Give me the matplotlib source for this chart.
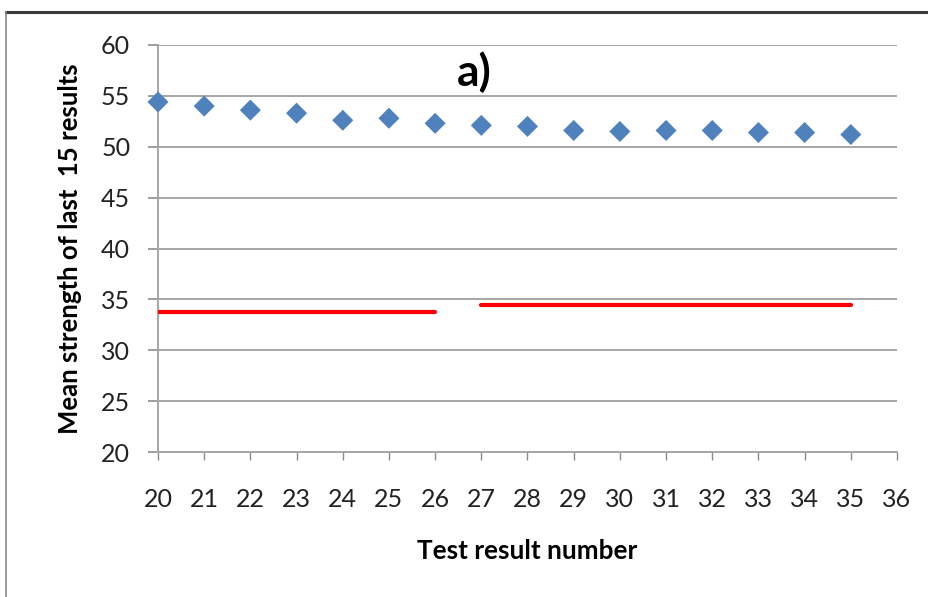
import matplotlib
matplotlib.use("Agg")
import matplotlib.pyplot as plt
from matplotlib.lines import Line2D

# Test result numbers and the running mean of the last 15 results
test_numbers = [20, 21, 22, 23, 24, 25, 26, 27, 28, 29, 30, 31, 32, 33, 34, 35]
mean_strength = [54.4, 54.0, 53.6, 53.3, 52.6, 52.8, 52.3, 52.1, 52.0, 51.6,
                 51.5, 51.6, 51.6, 51.4, 51.4, 51.2]

# Required-level segments (start, end, level)
seg_starts = [20, 27]
seg_ends = [26, 35]
seg_levels = [33.8, 34.4]

x_ticks = list(range(20, 37))
y_ticks = list(range(20, 61, 5))

plt.rcParams['font.family'] = ['Lato', 'DejaVu Sans']

fig = plt.figure(figsize=(9.29, 5.97), dpi=100)
ax = fig.add_axes([158 / 929, 1 - 452 / 597, (897 - 158) / 929, (452 - 45) / 597])

ax.scatter(test_numbers, mean_strength, marker='D', s=115, color='#4F81BD',
           edgecolors='none', zorder=3, clip_on=False)
for x0, x1, lvl in zip(seg_starts, seg_ends, seg_levels):
    ax.plot([x0, x1], [lvl, lvl], color='#FF0000', lw=3.0, solid_capstyle='round', zorder=3)

ax.set_xlim(20, 36)
ax.set_ylim(20, 60)
ax.set_xticks(x_ticks)
ax.set_yticks(y_ticks)
ax.tick_params(axis='both', labelsize=18, colors='#8c8c8c', labelcolor='#222222')
ax.tick_params(axis='y', length=7, width=1.2, pad=13)
ax.tick_params(axis='x', length=6, width=1.0, pad=20)

ax.grid(axis='y', color='#a6a6a6', lw=1.4, zorder=0)
ax.set_axisbelow(True)
for side in ('top', 'right'):
    ax.spines[side].set_visible(False)
for side in ('left', 'bottom'):
    ax.spines[side].set_color('#a6a6a6')
    ax.spines[side].set_linewidth(1.4)

ax.set_xlabel('Test result number', fontsize=18.8, fontweight='bold', labelpad=20)
ax.set_ylabel('Mean strength of last  15 results', fontsize=18.5, fontweight='bold', labelpad=14)
ax.text(26.85, 57.3, 'a)', fontsize=32, fontweight='bold', ha='center', va='center')

# Outer frame (top and left edges)
fig.add_artist(Line2D([6 / 929, 1.0], [1 - 12 / 597, 1 - 12 / 597],
                      color='#3a3a3a', lw=2.2, transform=fig.transFigure))
fig.add_artist(Line2D([6 / 929, 6 / 929], [0.0, 1 - 12 / 597],
                      color='#8a8a8a', lw=1.2, transform=fig.transFigure))

fig.savefig('out.png', dpi=100)
